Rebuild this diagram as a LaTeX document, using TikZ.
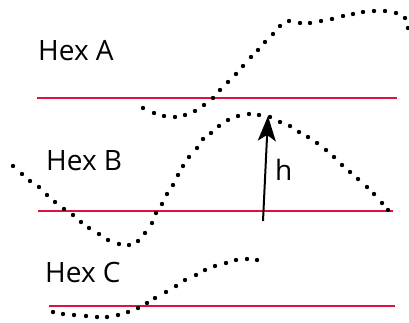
\documentclass[tikz,border=0pt]{standalone}
\usepackage{fontspec}
\setmainfont{Open Sans}
\usetikzlibrary{arrows.meta}
\definecolor{hexred}{RGB}{222,18,58}
\tikzset{
  level/.style={draw=hexred, line width=2pt},
  lab/.style={anchor=base west, inner sep=0pt, font=\fontsize{28}{34}\selectfont},
  dot/.style={fill=black},
  harrow/.style={line width=2pt, -{Stealth[length=25pt,width=18pt,inset=6pt]}}
}
\begin{document}
\begin{tikzpicture}[x=1pt,y=-1pt]
\useasboundingbox (0,0) rectangle (409,322);
% level lines
\coordinate (a1) at (37,98); \coordinate (a2) at (397,98);
\coordinate (b1) at (38,211); \coordinate (b2) at (393,211);
\coordinate (c1) at (49,306); \coordinate (c2) at (395,306);
\draw[level] (a1) -- (a2);
\draw[level] (b1) -- (b2);
\draw[level] (c1) -- (c2);
% labels
\node[lab] (hexA) at (38,60) {Hex A};
\node[lab] (hexB) at (46,170) {Hex B};
\node[lab] (hexC) at (45,282) {Hex C};
\node[lab] (hl) at (275,180) {h};
% arrow
\coordinate (hb) at (263,221);
\coordinate (ht) at (268,116);
\draw[harrow] (hb) -- (ht);
% curve A
\foreach \p in {(143,108),(154,113),(164,116),(175,117),(185,115),(195,111),(204,105),(213,98),(220,90),(228,82),(236,74),(243,66),(251,57),(258,50),(265,42),(273,34),(280,26),(289,21),(300,23),(310,23),(321,21),(332,19),(343,16),(353,14),(363,12),(374,11),(385,11),(396,13),(405,18),(408,28)}
  \fill[dot] \p circle (2.2);
% curve B
\foreach \p in {(13,166),(22,174),(30,181),(39,187),(47,195),(55,202),(64,209),(73,215),(81,222),(89,228),(99,234),(108,240),(119,244),(129,245),(138,241),(145,233),(152,223),(156,213),(162,204),(167,194),(173,185),(178,175),(183,166),(189,157),(197,148),(203,139),(211,133),(219,126),(228,120),(238,116),(249,114),(259,115),(270,117),(280,122),(290,126),(299,132),(308,137),(317,143),(326,150),(334,157),(342,165),(350,172),(358,179),(367,187),(374,194),(382,203),(388,210)}
  \fill[dot] \p circle (2.2);
% curve C
\foreach \p in {(53,312),(63,314),(74,315),(86,316),(97,317),(107,317),(118,315),(128,312),(138,308),(147,303),(155,298),(166,292),(176,286),(185,280),(196,275),(205,270),(215,266),(226,263),(236,260),(247,259),(257,260)}
  \fill[dot] \p circle (2.2);
\end{tikzpicture}
\end{document}
